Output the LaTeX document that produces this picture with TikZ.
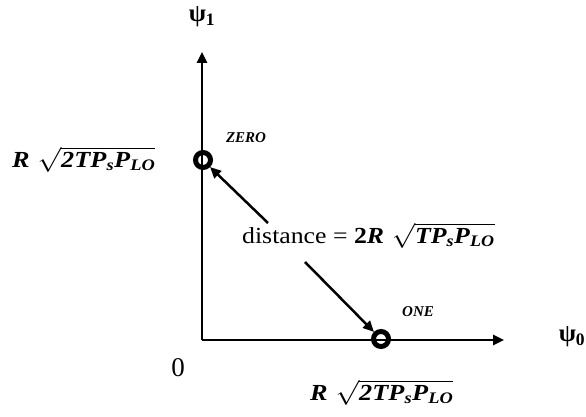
\documentclass[tikz,border=0pt]{standalone}
\usepackage{amsmath}
\usepackage{graphicx}
\usepackage{fontspec}
\setmainfont{Liberation Serif}
\usetikzlibrary{arrows.meta}
\newcommand{\bi}[1]{\textbf{\textit{#1}}}
\newcommand{\rootexpr}{\scalebox{1.14}[1]{$\bi{R}\;\sqrt{\bi{2TP}_{\bi{s}}\bi{P}_{\bi{LO}}}$}}
\begin{document}
\begin{tikzpicture}[x=1pt,y=-1pt,
  axis/.style={line width=2.5pt,-{Triangle[length=11pt,width=10pt]}},
  pointer/.style={line width=2.5pt,-{Triangle[length=11pt,width=10pt]}},
  pt/.style={circle,draw,line width=5pt,minimum size=15pt,inner sep=0pt},
  lab/.style={font=\fontsize{23}{26}\selectfont,inner sep=0pt},
  greek/.style={font=\fontsize{25}{27}\selectfont\bfseries,inner sep=0pt},
  small/.style={font=\fontsize{15}{16}\selectfont\bfseries\itshape,inner sep=0pt}]
\useasboundingbox (0,0) rectangle (586,417);
\coordinate (o) at (202,340);
\coordinate (ytip) at (202,52);
\coordinate (xtip) at (504,340);
\draw[axis] (o) -- (ytip);
\draw[axis] (o) -- (xtip);
\node[pt] (zero) at (203,160) {};
\node[pt] (one) at (381,339) {};
\node[small] (zerot) at (246,138) {ZERO};
\node[small] (onet) at (418,312) {ONE};
\node[greek] (psi1) at (202,17) {ψ\textsubscript{1}};
\node[greek] (psi0) at (572,337) {ψ\textsubscript{0}};
\node[lab,font=\fontsize{27}{28}\selectfont] (zl) at (178,368) {0};
\node[lab,anchor=base west] (ly) at (12,167) {\rootexpr};
\node[lab,anchor=base west] (lx) at (310,400) {\rootexpr};
\node[lab,anchor=base west] (dist) at (242,243) {\scalebox{1.12}[1]{distance = $\textbf{2}\bi{R}\;\sqrt{\bi{TP}_{\bi{s}}\bi{P}_{\bi{LO}}}$}};
\coordinate (d1) at (268,223);
\coordinate (d2) at (305,262);
\draw[pointer] (d1) -- (zero.-45);
\draw[pointer] (d2) -- (one.135);
\end{tikzpicture}
\end{document}
